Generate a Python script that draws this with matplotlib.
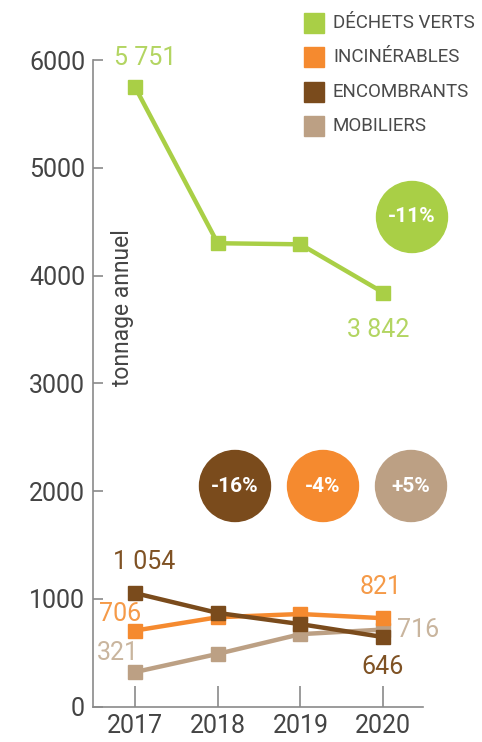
import matplotlib
matplotlib.use("Agg")
import matplotlib.pyplot as plt
from matplotlib.patches import Ellipse, Rectangle

plt.rcParams['font.family'] = ['Roboto', 'DejaVu Sans']

years = [2017, 2018, 2019, 2020]
dechets_verts = [5751, 4300, 4290, 3842]
incinerables = [706, 830, 860, 821]
encombrants = [1054, 870, 766, 646]
mobiliers = [321, 490, 673, 716]
series_names = ["DÉCHETS VERTS", "INCINÉRABLES", "ENCOMBRANTS", "MOBILIERS"]
changes = ["-11%", "-4%", "-16%", "+5%"]
yticks = [0, 1000, 2000, 3000, 4000, 5000, 6000]

c_green = "#A9CF46"
c_orange = "#F58A2F"
c_brown = "#7A4B1C"
c_tan = "#BCA084"
lab_green = "#B3D562"
lab_orange = "#F59A48"
lab_brown = "#7F5224"
lab_tan = "#C9B59E"

W, H = 482, 742
fig = plt.figure(figsize=(W / 100, H / 100), dpi=100)
ax = fig.add_axes([92.7 / W, 1 - 706.7 / H, (423 - 92.7) / W, (706.7 - 60) / H])

series = [(mobiliers, c_tan, 2), (incinerables, c_orange, 3),
          (encombrants, c_brown, 4), (dechets_verts, c_green, 5)]
for vals, col, z in series:
    ax.plot(years, vals, color=col, lw=3.2, marker='s', ms=9.5,
            zorder=z, solid_capstyle='butt')

ax.set_xlim(2016.49, 2020.48)
ax.set_ylim(0, 6000)
ax.set_xticks(years)
ax.set_yticks(yticks)
ax.set_xticklabels([str(y) for y in years])
ax.set_yticklabels([str(v) for v in yticks])
for s in ['top', 'right']:
    ax.spines[s].set_visible(False)
for s in ['left', 'bottom']:
    ax.spines[s].set_color('#8a8a8a')
    ax.spines[s].set_linewidth(1.2)
ax.tick_params(axis='y', direction='in', length=7, width=1.2, color='#8a8a8a',
               labelsize=18, labelcolor='#444444', pad=5.5)
ax.tick_params(axis='x', direction='in', length=15, width=1.2, color='#8a8a8a',
               labelsize=18, labelcolor='#444444', pad=5)
ax.patch.set_alpha(0)

fig.text(122 / W, 1 - 308 / H, "tonnage annuel", rotation=90, ha='center',
         va='center', fontsize=16.5, color='#444444')

def lab(x, y, s, col, dx, dy):
    ax.annotate(s, (x, y), xytext=(dx, dy), textcoords='offset pixels',
                ha='center', va='center', fontsize=18, color=col,
                zorder=10)

lab(years[0], dechets_verts[0], "5 751", lab_green, 10, 29)
lab(years[3], dechets_verts[3], "3 842", lab_green, -5, -37)
lab(years[0], encombrants[0], "1 054", lab_brown, 9, 31)
lab(years[3], encombrants[3], "646", lab_brown, -1, -30)
lab(years[0], incinerables[0], "706", lab_orange, -15, 17)
lab(years[3], incinerables[3], "821", lab_orange, -3, 31)
lab(years[0], mobiliers[0], "321", lab_tan, -17, 19)
lab(years[3], mobiliers[3], "716", lab_tan, 35, 0)

# legend
leg_cols = [c_green, c_orange, c_brown, c_tan]
leg_y = [23, 57, 92, 126]
for name, col, yy in zip(series_names, leg_cols, leg_y):
    fig.patches.append(Rectangle((304 / W, 1 - (yy + 10) / H), 20 / W, 20 / H,
                                 transform=fig.transFigure, color=col))
    fig.text(333 / W, 1 - yy / H, name, ha='left', va='center', fontsize=13.5,
             color='#4a4a4a')

# change circles
circles = [(412, 217, c_green, changes[0]), (323, 486, c_orange, changes[1]),
           (235, 486, c_brown, changes[2]), (411, 486, c_tan, changes[3])]
r = 35.5
for cx, cy, col, txt in circles:
    fig.patches.append(Ellipse((cx / W, 1 - cy / H), 2 * r / W, 2 * r / H,
                               transform=fig.transFigure, color=col))
    fig.text(cx / W, 1 - cy / H, txt, ha='center', va='center', fontsize=15,
             color='white', fontweight='bold')

fig.savefig("out.png", dpi=100)
